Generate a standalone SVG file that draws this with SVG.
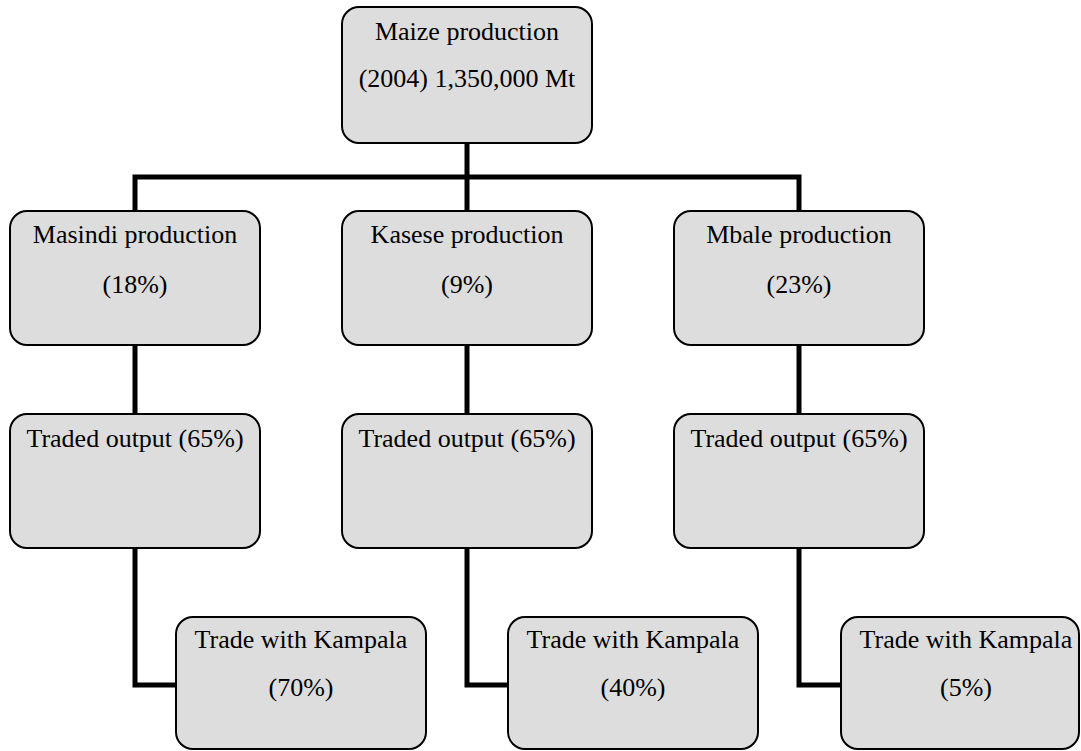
<svg xmlns="http://www.w3.org/2000/svg" width="1081" height="751" viewBox="0 0 1081 751">
<style>
.box{fill:#dddddd;stroke:#000;stroke-width:2}
.t{font-family:"Liberation Serif","Times New Roman",Times,serif;font-size:26px;fill:#000;text-anchor:middle}
.c{fill:none;stroke:#000;stroke-width:5;stroke-linejoin:miter;stroke-linecap:square}
</style>
<rect width="1081" height="751" fill="#fff"/>
<g id="connectors">
<path class="c" d="M467,143 V177 M135,211 V177 H799 V211 M467,177 V211"/>
<path class="c" d="M135,345 V414 M467,345 V414 M799,345 V414"/>
<path class="c" d="M135,548 V685 H176 M467,548 V685 H508 M799,548 V685 H841"/>
</g>
<g id="maize">
<rect class="box" x="342" y="7" width="250" height="136" rx="17"/>
<text class="t" x="467" y="40">Maize production</text>
<text class="t" x="467" y="87">(2004) 1,350,000 Mt</text>
</g>
<g id="masindi">
<rect class="box" x="10" y="211" width="250" height="134" rx="17"/>
<text class="t" x="135" y="243">Masindi production</text>
<text class="t" x="135" y="293">(18%)</text>
</g>
<g id="kasese">
<rect class="box" x="342" y="211" width="250" height="134" rx="17"/>
<text class="t" x="467" y="243">Kasese production</text>
<text class="t" x="467" y="293">(9%)</text>
</g>
<g id="mbale">
<rect class="box" x="674" y="211" width="250" height="134" rx="17"/>
<text class="t" x="799" y="243">Mbale production</text>
<text class="t" x="799" y="293">(23%)</text>
</g>
<g id="masindi-traded">
<rect class="box" x="10" y="414" width="250" height="134" rx="17"/>
<text class="t" x="135" y="447">Traded output (65%)</text>
</g>
<g id="kasese-traded">
<rect class="box" x="342" y="414" width="250" height="134" rx="17"/>
<text class="t" x="467" y="447">Traded output (65%)</text>
</g>
<g id="mbale-traded">
<rect class="box" x="674" y="414" width="250" height="134" rx="17"/>
<text class="t" x="799" y="447">Traded output (65%)</text>
</g>
<g id="masindi-kampala">
<rect class="box" x="176" y="617" width="250" height="132" rx="17"/>
<text class="t" x="301" y="648">Trade with Kampala</text>
<text class="t" x="301" y="696">(70%)</text>
</g>
<g id="kasese-kampala">
<rect class="box" x="508" y="617" width="250" height="132" rx="17"/>
<text class="t" x="633" y="648">Trade with Kampala</text>
<text class="t" x="633" y="696">(40%)</text>
</g>
<g id="mbale-kampala">
<rect class="box" x="841" y="617" width="238" height="132" rx="17"/>
<text class="t" x="966" y="648">Trade with Kampala</text>
<text class="t" x="966" y="696">(5%)</text>
</g>
</svg>
